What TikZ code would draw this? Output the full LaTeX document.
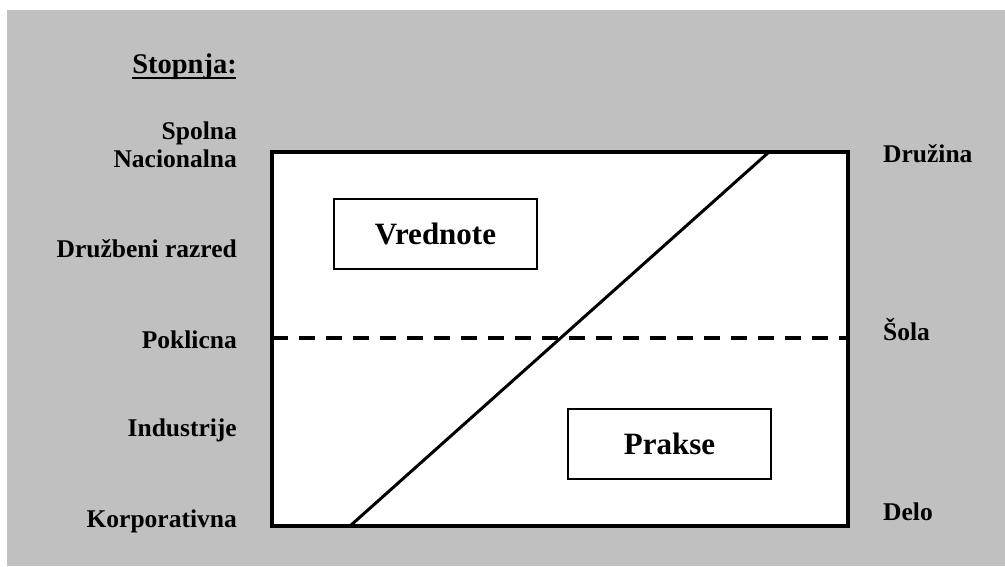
\documentclass[tikz,border=0pt]{standalone}
\usepackage{fontspec}
\setmainfont{Liberation Serif}
\begin{document}
\begin{tikzpicture}[x=1pt,y=-1pt,
  lbl/.style={font=\fontsize{25.5}{28}\selectfont\bfseries, inner sep=0pt},
  boxlbl/.style={draw, line width=1.5pt, fill=white, minimum width=203pt, minimum height=70pt, inner sep=0pt, font=\fontsize{31}{34}\selectfont\bfseries},
  frame/.style={line width=4pt, fill=white}]
\useasboundingbox (0,0) rectangle (1005,566);
\fill[white] (0,0) rectangle (1005,566);
\fill[fill={rgb,255:red,192;green,192;blue,192}] (7,10) rectangle (1005,566);
% main frame
\draw[frame] (272,152) rectangle (848,526);
\coordinate (dtop) at (769,152);
\coordinate (dbot) at (350,526);
\coordinate (dl) at (272,338);
\coordinate (dr) at (848,338);
\draw[line width=4pt, dash pattern=on 16pt off 11pt] (dl) -- (dr);
\draw[line width=3pt] (dbot) -- (dtop);
\node[boxlbl] (vred) at (435.5,234) {Vrednote};
\node[boxlbl] (prak) at (669.5,444) {Prakse};
% left labels
\node[lbl, anchor=base east, font=\fontsize{28.5}{31}\selectfont\bfseries] (stop) at (237,73) {Stopnja:};
\draw[line width=2pt] (stop.base west) ++(0,4.5) -- ++(104,0);
\node[lbl, anchor=base east] (spol) at (237,139) {Spolna};
\node[lbl, anchor=base east] (naci) at (237,167) {Nacionalna};
\node[lbl, anchor=base east] (druz) at (237,257) {Družbeni razred};
\node[lbl, anchor=base east] (pokl) at (237,348) {Poklicna};
\node[lbl, anchor=base east] (indu) at (237,436) {Industrije};
\node[lbl, anchor=base east] (korp) at (237,527) {Korporativna};
% right labels
\node[lbl, anchor=base west] (druzina) at (883,162) {Družina};
\node[lbl, anchor=base west] (sola) at (883,340) {Šola};
\node[lbl, anchor=base west] (delo) at (883,520) {Delo};
\end{tikzpicture}
\end{document}
